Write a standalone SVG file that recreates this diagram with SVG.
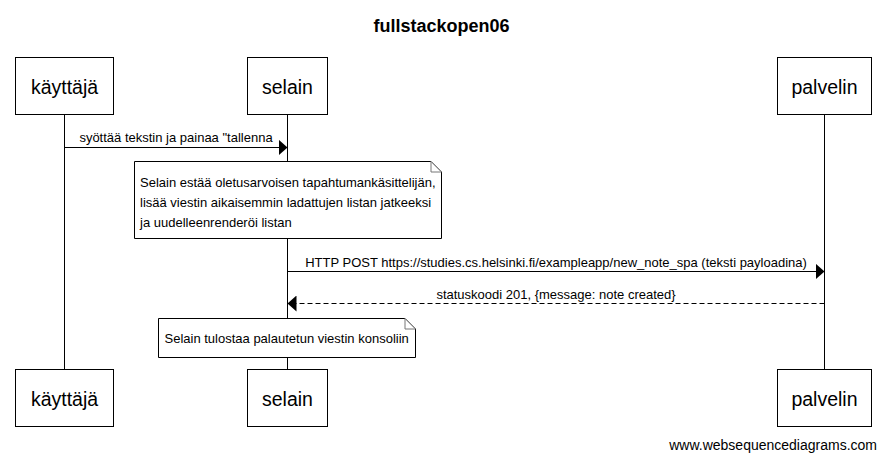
<svg xmlns="http://www.w3.org/2000/svg" width="886" height="462" viewBox="0 0 886 462">
<style>
  text { font-family: "Liberation Sans", Arial, sans-serif; fill: #000; }
  .title { font-size: 18px; font-weight: bold; text-anchor: middle; }
  .actor rect { fill: #fff; stroke: #000; stroke-width: 1; }
  .actor text { font-size: 19.5px; text-anchor: middle; }
  .life { stroke: #000; stroke-width: 1; }
  .msg { stroke: #000; stroke-width: 1; fill: none; }
  .dash { stroke-dasharray: 5 3; }
  .lbl { font-size: 13px; text-anchor: middle; }
  .note path.body { fill: #fff; stroke: #000; stroke-width: 1; }
  .note path.fold { fill: #fff; stroke: #777; stroke-width: 1; }
  .note text { font-size: 13px; }
  .foot { font-size: 14px; text-anchor: end; }
</style>
<defs>
  <marker id="arr" markerWidth="10" markerHeight="16" refX="9" refY="8" orient="auto" markerUnits="userSpaceOnUse">
    <path d="M0,0 L9,8 L0,16 Z" fill="#000"/>
  </marker>
</defs>
<rect width="886" height="462" fill="#fff"/>
<text class="title" x="441.5" y="32">fullstackopen06</text>

<g id="lifelines">
  <line class="life" x1="64.5" y1="115" x2="64.5" y2="370"/>
  <line class="life" x1="287.5" y1="115" x2="287.5" y2="370"/>
  <line class="life" x1="824.5" y1="115" x2="824.5" y2="370"/>
</g>

<g id="actor-kayttaja-top" class="actor">
  <rect x="15.5" y="57.5" width="98" height="57"/>
  <text x="64.5" y="94">käyttäjä</text>
</g>
<g id="actor-selain-top" class="actor">
  <rect x="247.5" y="57.5" width="80" height="57"/>
  <text x="287.5" y="94">selain</text>
</g>
<g id="actor-palvelin-top" class="actor">
  <rect x="777.5" y="57.5" width="94" height="57"/>
  <text x="824.5" y="94">palvelin</text>
</g>

<g id="note-1" class="note">
  <path class="body" d="M134.5,161.5 H431 L441.5,172 V238.5 H134.5 Z"/>
  <path class="fold" d="M431,161.5 V172 H441.5 Z"/>
  <text x="140" y="187">Selain estää oletusarvoisen tapahtumankäsittelijän,</text>
  <text x="140" y="207">lisää viestin aikaisemmin ladattujen listan jatkeeksi</text>
  <text x="140" y="227">ja uudelleenrenderöi listan</text>
</g>

<g id="note-2" class="note">
  <path class="body" d="M158.5,318.5 H405 L415.5,329 V357.5 H158.5 Z"/>
  <path class="fold" d="M405,318.5 V329 H415.5 Z"/>
  <text x="164.5" y="343">Selain tulostaa palautetun viestin konsoliin</text>
</g>

<g id="connectors">
  <line class="msg" x1="64.5" y1="147.5" x2="287.5" y2="147.5" marker-end="url(#arr)"/>
  <text class="lbl" x="176" y="142">syöttää tekstin ja painaa "tallenna</text>
  <line class="msg" x1="287.5" y1="271.5" x2="824.5" y2="271.5" marker-end="url(#arr)"/>
  <text class="lbl" x="556" y="266.5">HTTP POST https://studies.cs.helsinki.fi/exampleapp/new_note_spa (teksti payloadina)</text>
  <line class="msg dash" x1="824.5" y1="303.5" x2="287.5" y2="303.5" marker-end="url(#arr)"/>
  <text class="lbl" x="556" y="298.5">statuskoodi 201, {message: note created}</text>
</g>

<g id="actor-kayttaja-bottom" class="actor">
  <rect x="15.5" y="369.5" width="98" height="57"/>
  <text x="64.5" y="406">käyttäjä</text>
</g>
<g id="actor-selain-bottom" class="actor">
  <rect x="247.5" y="369.5" width="80" height="57"/>
  <text x="287.5" y="406">selain</text>
</g>
<g id="actor-palvelin-bottom" class="actor">
  <rect x="777.5" y="369.5" width="94" height="57"/>
  <text x="824.5" y="406">palvelin</text>
</g>

<text class="foot" x="877" y="450">www.websequencediagrams.com</text>
</svg>
